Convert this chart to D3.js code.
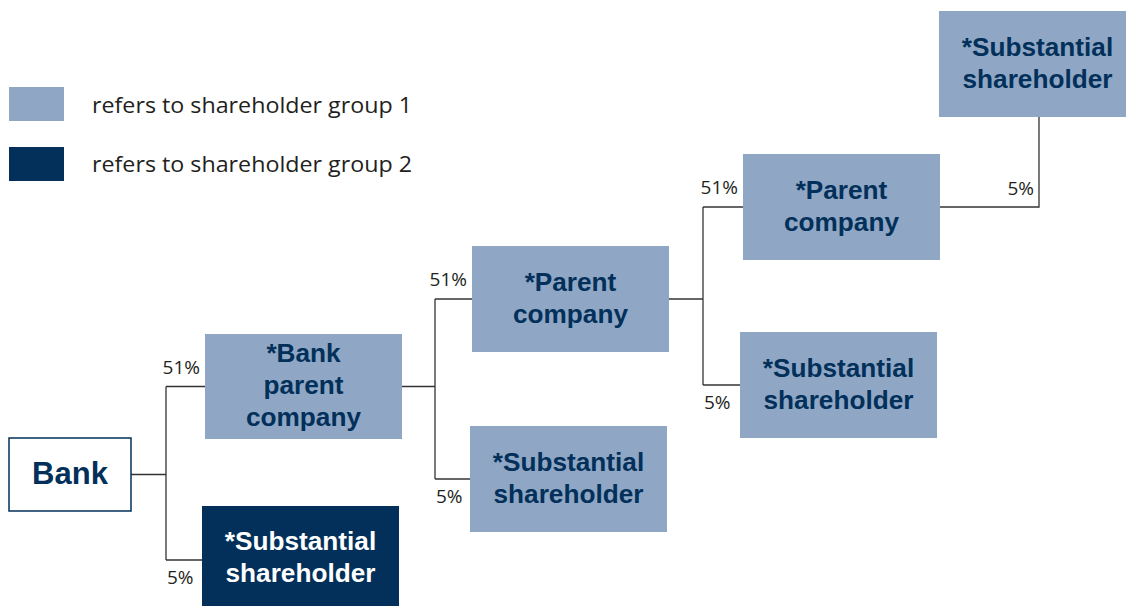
<!DOCTYPE html>
<html><head><meta charset="utf-8">
<script src="https://cdn.jsdelivr.net/npm/d3@7"></script>
<style>html,body{margin:0;padding:0;background:#fff;}svg{display:block;}</style>
</head><body>
<svg id="chart" width="1126" height="606"></svg>
<script>
// ---- data ----
const nodeIds     = ["bank","bpc","ss1","pc1","ss2","pc2","ss3","ss4"];
const nodeLabels  = ["Bank","*Bank\nparent\ncompany","*Substantial\nshareholder","*Parent\ncompany","*Substantial\nshareholder","*Parent\ncompany","*Substantial\nshareholder","*Substantial\nshareholder"];
const nodeGroups  = ["entity","group1","group2","group1","group1","group1","group1","group1"];
const nodeParents = [null,"bank","bank","bpc","bpc","pc1","pc1","pc2"];
const stakeLabels = [null,"51%","5%","51%","5%","51%","5%","5%"];
const legendLabels = ["refers to shareholder group 1","refers to shareholder group 2"];
const legendGroups = ["group1","group2"];

// ---- layout (pixel geometry) ----
const layoutX = d3.scaleOrdinal().domain(nodeIds).range([9,205,202,472,470,743,740,939]);
const layoutY = d3.scaleOrdinal().domain(nodeIds).range([438,334,506,246,426,154,332,11]);
const layoutW = d3.scaleOrdinal().domain(nodeIds).range([122,197,197,197,197,197,197,197]);
const layoutH = d3.scaleOrdinal().domain(nodeIds).range([73,105,108,106,106,106,106,106]);
const fill = d3.scaleOrdinal().domain(["entity","group1","group2"]).range(["#ffffff","#8FA7C4","#02305A"]);
const textColor = d3.scaleOrdinal().domain(["entity","group1","group2"]).range(["#02305A","#02305A","#ffffff"]);

const nodes = nodeIds.map((id,i)=>({id,label:nodeLabels[i],group:nodeGroups[i],parent:nodeParents[i],stake:stakeLabels[i],
  x:layoutX(id),y:layoutY(id),w:layoutW(id),h:layoutH(id)}));
const byId = new Map(nodes.map(n=>[n.id,n]));

const svg = d3.select("#chart");
const lineColor = "#333333";
const pctFont = "'Open Sans', sans-serif", pctSize = 19;

// connectors: elbow x per parent
const elbowX = d3.scaleOrdinal().domain(["bank","bpc","pc1"]).range([166,435,703]);
const conn = svg.append("g").attr("fill","none").attr("stroke",lineColor).attr("stroke-width",1.3);
const parentsWithKids = d3.group(nodes.filter(n=>n.parent && n.id!=="ss4"), n=>n.parent);
parentsWithKids.forEach((kids,pid)=>{
  const p = byId.get(pid);
  const ex = elbowX(pid);
  const py = p.y + p.h/2;
  conn.append("path").attr("d",`M${p.x+p.w},${py}H${ex}`);
  const ys = kids.map(k=>k.y+k.h/2);
  conn.append("path").attr("d",`M${ex},${d3.min(ys)}V${d3.max(ys)}`);
  kids.forEach(k=>{
    const ky = k.y+k.h/2;
    conn.append("path").attr("d",`M${ex},${ky}H${k.x}`);
    const big = k.stake==="51%";
    svg.append("text").text(k.stake)
      .attr("x", big ? k.x-5 : ex+1)
      .attr("y", big ? ky-13 : ky+24)
      .attr("text-anchor", big ? "end" : "start")
      .attr("font-family",pctFont).attr("font-size",pctSize).attr("fill","#231f20");
  });
});
// special connector pc2 -> ss4 (up)
{
  const p = byId.get("pc2"), k = byId.get("ss4");
  const py = p.y+p.h/2, kx = 1039;
  conn.append("path").attr("d",`M${p.x+p.w},${py}H${kx}V${k.y+k.h}`);
  svg.append("text").text(k.stake).attr("x",kx-5).attr("y",py-12).attr("text-anchor","end")
    .attr("font-family",pctFont).attr("font-size",pctSize).attr("fill","#231f20");
}

// boxes
const g = svg.append("g").selectAll("g").data(nodes).join("g");
g.append("rect").attr("x",d=>d.x).attr("y",d=>d.y).attr("width",d=>d.w).attr("height",d=>d.h)
  .attr("fill",d=>fill(d.group))
  .attr("stroke",d=>d.group==="entity"?"#02305A":"none").attr("stroke-width",1.5);
g.each(function(d){
  const lines = d.label.split("\n");
  const fs = d.group==="entity" ? 31 : 26.2;
  const lh = 32;
  const cy = d.y + d.h/2 - (d.id==="ss1" ? 2 : 0);
  const t = d3.select(this).append("text").attr("text-anchor","middle")
    .attr("font-family","'Liberation Sans', Arial, sans-serif").attr("font-weight","bold")
    .attr("font-size",fs).attr("fill",textColor(d.group));
  lines.forEach((l,i)=>{
    t.append("tspan").attr("x",d.x+d.w/2)
      .attr("y", cy + (i-(lines.length-1)/2)*lh + fs*0.3).text(l);
  });
});

// legend
const lg = svg.append("g").selectAll("g").data(legendLabels).join("g");
lg.append("rect").attr("x",9).attr("y",(d,i)=>87+i*60).attr("width",55).attr("height",34)
  .attr("fill",(d,i)=>fill(legendGroups[i]));
lg.append("text").attr("x",92).attr("y",(d,i)=>113+i*59).text(d=>d)
  .attr("textLength",320).attr("lengthAdjust","spacingAndGlyphs")
  .attr("font-family","'Open Sans', sans-serif").attr("font-size",22).attr("fill","#231f20");
</script>
</body></html>
